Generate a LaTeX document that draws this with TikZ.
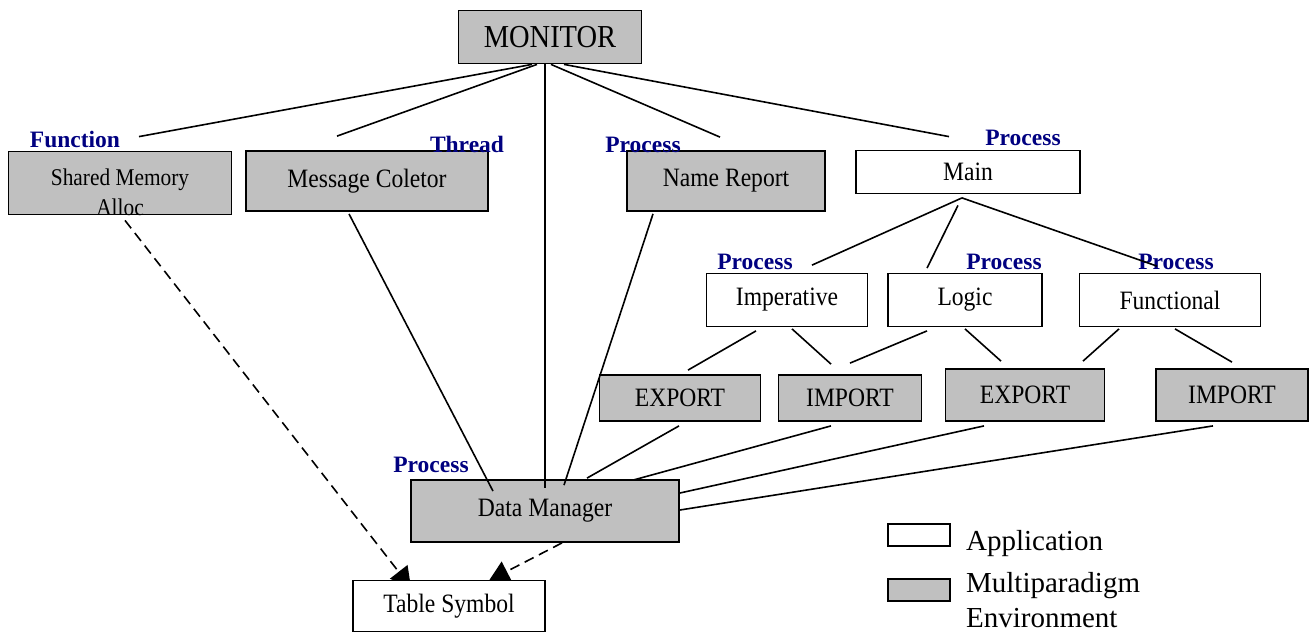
\documentclass[tikz,border=0pt]{standalone}
\usepackage{fontspec}
\setmainfont{Liberation Serif}
\newfontfamily\boxfont[FakeStretch=0.89]{Liberation Serif}
\usetikzlibrary{positioning, calc, arrows.meta, backgrounds}
\definecolor{labelblue}{RGB}{0,0,128}
\definecolor{envgray}{RGB}{192,192,192}

\begin{document}
\begin{tikzpicture} [
        x = 1pt, y = -1pt,
        appbox/.style = {rectangle, draw, line width=1.8pt, fill=white, inner sep=0pt, font=\boxfont\fontsize{26.5}{30}\selectfont},
        envbox/.style = {appbox, fill=envgray},
        kind/.style = {inner sep=0pt, text=labelblue, font=\fontsize{23.5}{26}\selectfont\bfseries},
        legend/.style = {inner sep=0pt, align=left, font=\fontsize{29}{35}\selectfont},
        link/.style = {draw, line width=1.6pt},
        usage/.style = {link, dash pattern=on 10pt off 6pt, -{Triangle[length=20pt, width=22pt]}}
    ]
    \useasboundingbox (0,0) rectangle (1310,633);

    \node[envbox, minimum width=183, minimum height=53, font=\boxfont\fontsize{32}{36}\selectfont] (mon) at (550,37) {MONITOR};

    \node[envbox, minimum width=223, minimum height=63] (sma) at (120,183) {};
    \begin{scope}
        % the second line runs out of the box and is cut at its edge
        \clip (sma.south west) rectangle (sma.north east);
        \node[inner sep=0pt, align=center, anchor=north, font=\boxfont\fontsize{24}{30}\selectfont]
            (smatext) at ($(sma.north)+(0,18)$) {Shared Memory\\Alloc};
    \end{scope}
    \node[envbox, minimum width=242, minimum height=60] (msg)  at (367,181) {Message Coletor};
    \node[envbox, minimum width=198, minimum height=60] (nrep) at (726,181) {Name Report};
    \node[appbox, minimum width=224, minimum height=43] (main) at (968,172) {Main};

    \node[appbox, minimum width=161, minimum height=53] (imp)   at (787,300)  {Imperative};
    \node[appbox, minimum width=154, minimum height=53] (logic) at (965,300)  {Logic};
    \node[appbox, minimum width=181, minimum height=53] (func)  at (1170,300) {Functional};

    \node[envbox, minimum width=161, minimum height=46] (exp1) at (680,398)  {EXPORT};
    \node[envbox, minimum width=143, minimum height=46] (imp1) at (850,398)  {IMPORT};
    \node[envbox, minimum width=159, minimum height=52] (exp2) at (1025,395) {EXPORT};
    \node[envbox, minimum width=152, minimum height=52] (imp2) at (1232,395) {IMPORT};

    \node[envbox, minimum width=268, minimum height=62] (dm)  at (545,511) {Data Manager};
    \node[appbox, minimum width=192, minimum height=51] (tbl) at (449,606) {Table Symbol};

    % kind of each component
    \node[kind] (fnlab)  at (75,139)   {Function};
    \node[kind] (thlab)  at (467,144)  {Thread};
    \node[kind] (nrlab)  at (643,145)  {Process};
    \node[kind] (mnlab)  at (1023,138) {Process};
    \node[kind] (implab) at (755,262)  {Process};
    \node[kind] (loglab) at (1004,262) {Process};
    \node[kind] (funlab) at (1176,262) {Process};
    \node[kind] (dmlab)  at (431,465)  {Process};

    % legend
    \node[appbox, minimum width=62, minimum height=22] (keyapp) at (919,535) {};
    \node[envbox, minimum width=62, minimum height=22] (keyenv) at (919,590) {};
    \node[legend, right=15pt of keyapp, yshift=-9pt]    (appname) {Application};
    \node[legend, right=15pt of keyenv, yshift=-10.5pt] (envname) {Multiparadigm\\Environment};

    % monitor
    \draw[link] ($(mon.south)+(-18,0)$) -- ($(sma.north)+(19,-14)$);
    \draw[link] ($(mon.south)+(-13,0)$) -- ($(msg.north)+(-30,-14)$);
    \draw[link] ($(mon.south)+(-5,0)$)  -- ($(dm.north)+(0,9)$);
    \draw[link] ($(mon.south)+(1,0)$)   -- ($(nrep.north)+(-6,-13)$);
    \draw[link] ($(mon.south)+(14,0)$)  -- ($(main.north)+(-19,-13)$);

    % main
    \draw[link] ($(main.south)+(-6,3.5)$) -- ($(imp.north)+(25,-7.5)$);
    \draw[link] ($(main.south)+(-10,11)$) -- ($(logic.north)+(-38,-4.5)$);
    \draw[link] ($(main.south)+(-6,3.5)$) -- ($(func.north)+(-13,-6.5)$);

    % paradigms
    \draw[link] ($(imp.south)+(-31,3.5)$)   -- ($(exp1.north)+(8,-4)$);
    \draw[link] ($(imp.south)+(5,1.5)$)     -- ($(imp1.north)+(-19,-10)$);
    \draw[link] ($(logic.south)+(-38,3.5)$) -- ($(imp1.north)+(0,-11)$);
    \draw[link] ($(logic.south)+(0,1.5)$)   -- ($(exp2.north)+(-24,-7)$);
    \draw[link] ($(func.south)+(-51,1.5)$)  -- ($(exp2.north)+(58,-7)$);
    \draw[link] ($(func.south)+(5,1.5)$)    -- ($(imp2.north)+(0,-6)$);

    % data manager
    \draw[link] ($(msg.south)+(-18,2)$)  -- ($(dm.north)+(-52,12)$);
    \draw[link] ($(nrep.south)+(-73,2)$) -- ($(dm.north)+(19,6)$);
    \draw[link] ($(exp1.south)+(-1,4)$)  -- ($(dm.north)+(42,-1)$);
    \draw[link] ($(imp1.south)+(-19,4)$) -- ($(dm.north)+(88,1)$);
    \draw[link] ($(exp2.south)+(-41,4)$) -- ($(dm.east)+(0,-18)$);
    \draw[link] ($(imp2.south)+(-19,4)$) -- ($(dm.east)+(0,-1)$);

    % table symbol, tips end under the box
    \begin{scope}[on background layer]
        \draw[usage] ($(sma.south)+(5,5)$) -- ($(tbl.north)+(-38,8)$);
        \draw[usage] ($(dm.south)+(17,0)$) -- ($(tbl.north)+(40,1)$);
    \end{scope}

\end{tikzpicture}
\end{document}
